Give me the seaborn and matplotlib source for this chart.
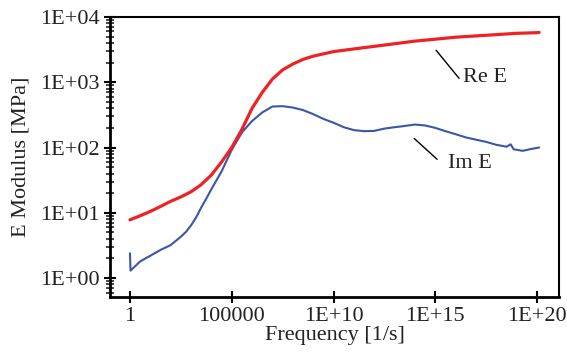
import numpy as np
import pandas as pd
import matplotlib
matplotlib.use("Agg")
import matplotlib.pyplot as plt
import seaborn as sns

# Data (log10 of frequency, values in MPa)
re_logf = [0, 0.5, 1, 1.5, 2, 2.5, 3, 3.5, 4, 4.5, 5, 5.5, 6, 6.5, 7, 7.5, 8, 8.5, 9, 10,
           11, 12, 13, 14, 15, 16, 17, 18, 19, 20, 20.1]
re_E = [7.8, 9.0, 10.5, 12.5, 15, 17.5, 21, 27, 38, 60, 100, 190, 400, 700, 1120, 1550,
        1900, 2240, 2510, 2950, 3240, 3550, 3890, 4270, 4570, 4900, 5130, 5370, 5620, 5750, 5800]

im_logf = [0, 0.03, 0.5, 1, 1.5, 2, 2.5, 2.75, 3, 3.25, 3.5, 3.75, 4, 4.5, 5, 5.5, 6, 6.5,
           7, 7.5, 8, 8.5, 9, 9.5, 10, 10.5, 11, 11.5, 12, 12.5, 13, 13.3, 14, 14.5, 15,
           15.5, 16, 16.5, 17, 17.5, 18, 18.5, 18.7, 18.85, 19.3, 19.7, 20.1]
im_E = [2.4, 1.3, 1.8, 2.2, 2.7, 3.2, 4.3, 5.1, 6.4, 8.5, 12, 16.5, 23, 43, 92, 170, 255,
        345, 425, 430, 410, 375, 325, 275, 240, 205, 185, 178, 180, 195, 205, 210, 225,
        218, 200, 178, 160, 143, 132, 122, 110, 103, 112, 94, 89, 95, 100]

x_ticks = [1, 1e5, 1e10, 1e15, 1e20]
x_tick_labels = ["1", "100000", "1E+10", "1E+15", "1E+20"]
y_ticks = [1, 10, 100, 1000, 10000]
y_tick_labels = ["1E+00", "1E+01", "1E+02", "1E+03", "1E+04"]

sns.set_style("ticks")
plt.rcParams['font.family'] = ['Liberation Serif', 'DejaVu Serif']

df_re = pd.DataFrame({"f": 10 ** np.array(re_logf, dtype=float), "E": re_E})
df_im = pd.DataFrame({"f": 10 ** np.array(im_logf, dtype=float), "E": im_E})

fig = plt.figure(figsize=(5.67, 3.54), dpi=100)
ax = fig.add_axes([0.194, 0.161, 0.792, 0.791])

sns.lineplot(data=df_im, x="f", y="E", ax=ax, color="#3a56a8", lw=1.5, estimator=None,
             sort=False)
sns.lineplot(data=df_re, x="f", y="E", ax=ax, color="#ee2226", lw=2.3, estimator=None,
             sort=False)

ax.set_xscale("log")
ax.set_yscale("log")
ax.set_xlim(10 ** -0.98, 10 ** 21.08)
ax.set_ylim(10 ** -0.29, 1e4)

ax.set_xticks(x_ticks)
ax.set_xticklabels(x_tick_labels)
ax.xaxis.set_minor_locator(matplotlib.ticker.NullLocator())
ax.set_yticks(y_ticks)
ax.set_yticklabels(y_tick_labels)
ax.yaxis.set_minor_locator(matplotlib.ticker.LogLocator(base=10, subs=np.arange(2, 10)))
ax.yaxis.set_minor_formatter(matplotlib.ticker.NullFormatter())

ax.tick_params(axis="both", which="major", direction="inout", length=9, width=1.5,
               labelsize=16, colors="black", pad=3)
ax.tick_params(axis="both", which="major", labelcolor="#222222")
ax.tick_params(axis="y", which="minor", direction="inout", length=6, width=1.2)

for s in ["left", "bottom"]:
    ax.spines[s].set_linewidth(2)
for s in ["top", "right"]:
    ax.spines[s].set_linewidth(1.5)
    ax.spines[s].set_visible(True)
for s in ax.spines.values():
    s.set_color("black")

ax.set_xlabel("Frequency [1/s]", fontsize=16, color="#222222", labelpad=0)
ax.set_ylabel("E Modulus [MPa]", fontsize=16, color="#222222", labelpad=7)

ax.annotate("", xy=(10 ** 15.04, 10 ** 3.49), xytext=(10 ** 16.17, 10 ** 3.06),
            arrowprops=dict(arrowstyle="-", lw=1, color="black", shrinkA=0, shrinkB=0))
ax.text(10 ** 17.44, 10 ** 3.08, "Re E", fontsize=16, ha="center", va="center", color="#222222")
ax.annotate("", xy=(10 ** 13.96, 10 ** 2.14), xytext=(10 ** 15.09, 10 ** 1.82),
            arrowprops=dict(arrowstyle="-", lw=1, color="black", shrinkA=0, shrinkB=0))
ax.text(10 ** 16.7, 10 ** 1.75, "Im E", fontsize=16, ha="center", va="center", color="#222222")

fig.savefig("out.png", dpi=100)
